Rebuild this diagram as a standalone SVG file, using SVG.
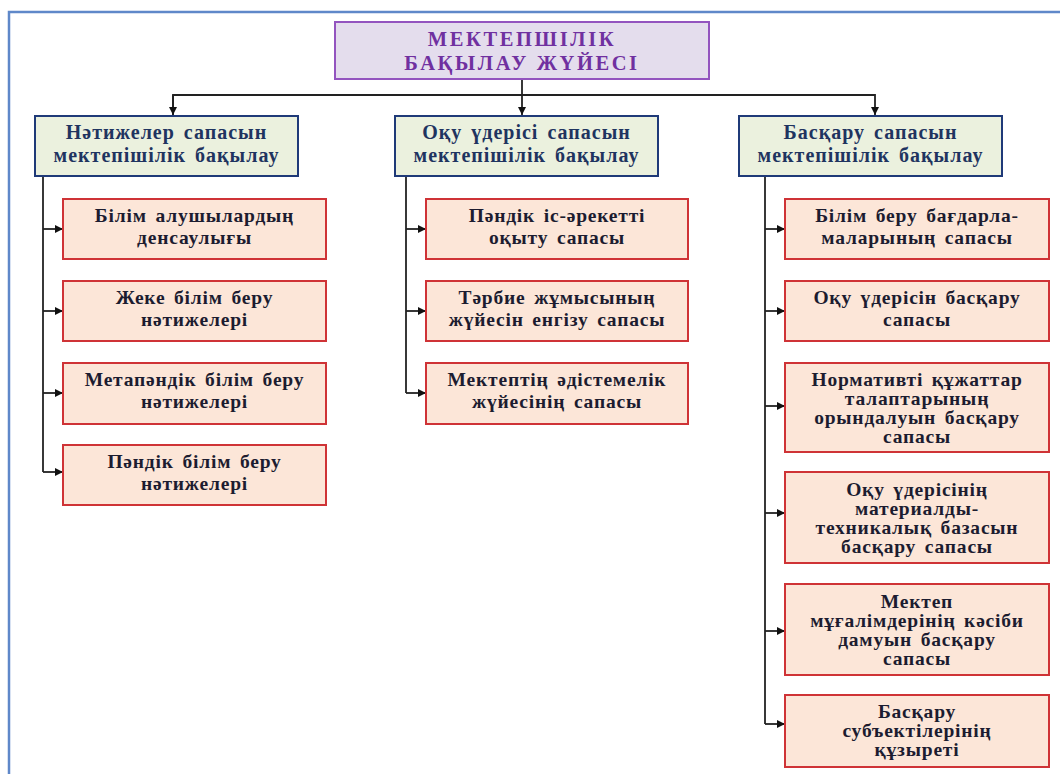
<svg xmlns="http://www.w3.org/2000/svg" width="1060" height="774" viewBox="0 0 1060 774">
<defs>
<marker id="arr" viewBox="0 0 10 10" refX="10" refY="5" markerWidth="9" markerHeight="8" orient="auto" markerUnits="userSpaceOnUse">
<path d="M0,0 L10,5 L0,10 z" fill="#111"/>
</marker>
<style>
text{font-family:"Liberation Serif","Times New Roman",serif;font-weight:bold;text-anchor:middle}
.top rect{fill:#e4dded;stroke:#9354bf;stroke-width:2}
.top text{fill:#7030a0;font-size:20.5px;letter-spacing:2.6px}
.cat rect{fill:#ebf1de;stroke:#1f3a78;stroke-width:2}
.cat text{fill:#1f3460;font-size:20px;letter-spacing:1px;word-spacing:3px}
.leaf rect{fill:#fce6d8;stroke:#cf3336;stroke-width:2}
.leaf text{fill:#1c1c30;font-size:19.5px;letter-spacing:0.8px;word-spacing:3px}
.conn line,.conn polyline{stroke:#222;stroke-width:1.8;fill:none}
</style>
</defs>
<rect width="1060" height="774" fill="#fff"/>
<path d="M9,774 V12 H1060" fill="none" stroke="#5f88c9" stroke-width="2.5"/>

<g id="connectors" class="conn">
<line x1="522" y1="79" x2="522" y2="115" marker-end="url(#arr)"/>
<polyline points="173,115 173,95 875,95 875,115" marker-end="url(#arr)"/>
<line x1="173" y1="95" x2="173" y2="115" marker-end="url(#arr)"/>
<line x1="43" y1="176" x2="43" y2="472"/>
<line x1="43" y1="229" x2="63" y2="229" marker-end="url(#arr)"/>
<line x1="43" y1="311" x2="63" y2="311" marker-end="url(#arr)"/>
<line x1="43" y1="393" x2="63" y2="393" marker-end="url(#arr)"/>
<line x1="43" y1="472" x2="63" y2="472" marker-end="url(#arr)"/>
<line x1="406" y1="176" x2="406" y2="393"/>
<line x1="406" y1="229" x2="426" y2="229" marker-end="url(#arr)"/>
<line x1="406" y1="311" x2="426" y2="311" marker-end="url(#arr)"/>
<line x1="406" y1="393" x2="426" y2="393" marker-end="url(#arr)"/>
<line x1="765" y1="176" x2="765" y2="724"/>
<line x1="765" y1="229" x2="785" y2="229" marker-end="url(#arr)"/>
<line x1="765" y1="311" x2="785" y2="311" marker-end="url(#arr)"/>
<line x1="765" y1="406" x2="785" y2="406" marker-end="url(#arr)"/>
<line x1="765" y1="513" x2="785" y2="513" marker-end="url(#arr)"/>
<line x1="765" y1="631" x2="785" y2="631" marker-end="url(#arr)"/>
<line x1="765" y1="724" x2="785" y2="724" marker-end="url(#arr)"/>
</g>

<g id="root" class="top">
<rect x="335" y="22" width="374" height="57"/>
<text x="522" y="45.5">МЕКТЕПШІЛІК</text>
<text x="522" y="69.5">БАҚЫЛАУ ЖҮЙЕСІ</text>
</g>

<g id="cat1" class="cat">
<rect x="35" y="116" width="263" height="60"/>
<text x="166.5" y="139">Нәтижелер сапасын</text>
<text x="166.5" y="162">мектепішілік бақылау</text>
</g>
<g id="cat2" class="cat">
<rect x="395" y="116" width="263" height="60"/>
<text x="526.5" y="139">Оқу үдерісі сапасын</text>
<text x="526.5" y="162">мектепішілік бақылау</text>
</g>
<g id="cat3" class="cat">
<rect x="739" y="116" width="263" height="60"/>
<text x="870.5" y="139">Басқару сапасын</text>
<text x="870.5" y="162">мектепішілік бақылау</text>
</g>

<g id="l1" class="leaf"><rect x="63" y="199" width="263" height="60"/>
<text x="194.5" y="222">Білім алушылардың</text><text x="194.5" y="244">денсаулығы</text></g>
<g id="l2" class="leaf"><rect x="63" y="281" width="263" height="60"/>
<text x="194.5" y="304">Жеке білім беру</text><text x="194.5" y="326">нәтижелері</text></g>
<g id="l3" class="leaf"><rect x="63" y="363" width="263" height="61"/>
<text x="194.5" y="386">Метапәндік білім беру</text><text x="194.5" y="408">нәтижелері</text></g>
<g id="l4" class="leaf"><rect x="63" y="445" width="263" height="60"/>
<text x="194.5" y="468">Пәндік білім беру</text><text x="194.5" y="490">нәтижелері</text></g>

<g id="m1" class="leaf"><rect x="426" y="199" width="262" height="60"/>
<text x="557" y="222">Пәндік іс-әрекетті</text><text x="557" y="244">оқыту сапасы</text></g>
<g id="m2" class="leaf"><rect x="426" y="281" width="262" height="60"/>
<text x="557" y="304">Тәрбие жұмысының</text><text x="557" y="326">жүйесін енгізу сапасы</text></g>
<g id="m3" class="leaf"><rect x="426" y="363" width="262" height="61"/>
<text x="557" y="386">Мектептің әдістемелік</text><text x="557" y="408">жүйесінің сапасы</text></g>

<g id="r1" class="leaf"><rect x="785" y="199" width="264" height="60"/>
<text x="917" y="222">Білім беру бағдарла-</text><text x="917" y="244">маларының сапасы</text></g>
<g id="r2" class="leaf"><rect x="785" y="281" width="264" height="60"/>
<text x="917" y="304">Оқу үдерісін басқару</text><text x="917" y="326">сапасы</text></g>
<g id="r3" class="leaf"><rect x="785" y="363" width="264" height="89"/>
<text x="917" y="386">Нормативті құжаттар</text><text x="917" y="405">талаптарының</text><text x="917" y="424">орындалуын басқару</text><text x="917" y="443">сапасы</text></g>
<g id="r4" class="leaf"><rect x="785" y="472" width="264" height="91"/>
<text x="917" y="496">Оқу үдерісінің</text><text x="917" y="515">материалды-</text><text x="917" y="534">техникалық базасын</text><text x="917" y="553">басқару сапасы</text></g>
<g id="r5" class="leaf"><rect x="785" y="584" width="264" height="91"/>
<text x="917" y="608">Мектеп</text><text x="917" y="627">мұғалімдерінің кәсіби</text><text x="917" y="646">дамуын басқару</text><text x="917" y="665">сапасы</text></g>
<g id="r6" class="leaf"><rect x="785" y="695" width="264" height="72"/>
<text x="917" y="718">Басқару</text><text x="917" y="737">субъектілерінің</text><text x="917" y="756">құзыреті</text></g>
</svg>
